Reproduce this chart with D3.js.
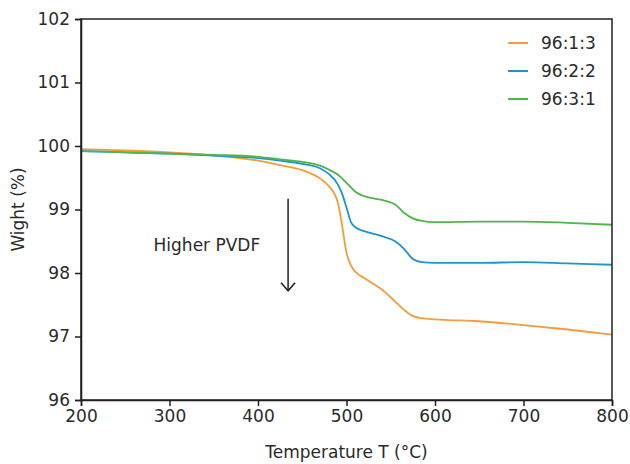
<!DOCTYPE html>
<html>
<head>
<meta charset="utf-8">
<script src="https://cdn.jsdelivr.net/npm/d3@7"></script>
<style>
	body { margin: 0; background: #fff; }
	svg text { font-family: "DejaVu Sans", sans-serif; fill: #2b2b2b; }
</style>
</head>
<body>
<div id="chart"></div>
<script>
var temps = [200, 250, 300, 350, 400, 425, 450, 470, 480, 490, 495, 500, 505, 510, 520, 540, 555, 565, 575, 585, 600, 650, 700, 750, 800];
var series131 = [99.95, 99.93, 99.90, 99.85, 99.77, 99.70, 99.62, 99.49, 99.37, 99.12, 98.75, 98.32, 98.12, 98.02, 97.92, 97.74, 97.55, 97.42, 97.32, 97.29, 97.27, 97.24, 97.18, 97.11, 97.03];
var series222 = [99.92, 99.90, 99.88, 99.85, 99.81, 99.77, 99.72, 99.65, 99.56, 99.40, 99.25, 99.03, 98.80, 98.72, 98.66, 98.58, 98.50, 98.38, 98.22, 98.17, 98.16, 98.16, 98.17, 98.15, 98.13];
var series311 = [99.92, 99.90, 99.88, 99.86, 99.83, 99.79, 99.75, 99.69, 99.63, 99.55, 99.49, 99.42, 99.35, 99.28, 99.21, 99.15, 99.08, 98.95, 98.86, 98.82, 98.80, 98.81, 98.81, 98.79, 98.76];
var seriesNames = ["96:1:3", "96:2:2", "96:3:1"];
var seriesColors = ["#f89b3a", "#1c95d3", "#4db848"];
var xTicks = [200, 300, 400, 500, 600, 700, 800];
var yTicks = [96, 97, 98, 99, 100, 101, 102];

var width = 630, height = 464;
var margin = { top: 19, right: 18, bottom: 64, left: 81 };

var svg = d3.select("#chart").append("svg")
	.attr("width", width)
	.attr("height", height);

var x = d3.scaleLinear().domain([200, 800]).range([margin.left, width - margin.right]);
var y = d3.scaleLinear().domain([96, 102]).range([height - margin.bottom, margin.top]);

var allSeries = [series131, series222, series311];

var line = d3.line()
	.x(function (d) { return x(d[0]); })
	.y(function (d) { return y(d[1]); })
	.curve(d3.curveMonotoneX);

// curves
svg.append("g")
	.selectAll("path")
	.data(allSeries)
	.enter()
		.append("path")
			.attr("fill", "none")
			.attr("stroke", function (d, i) { return seriesColors[i]; })
			.attr("stroke-width", 1.8)
			.attr("d", function (vals) {
				return line(vals.map(function (v, i) { return [temps[i], v]; }));
			});

// frame
svg.append("rect")
	.attr("x", x(200))
	.attr("y", y(102))
	.attr("width", x(800) - x(200))
	.attr("height", y(96) - y(102))
	.attr("fill", "none")
	.attr("stroke", "#231f20")
	.attr("stroke-width", 1.5);

var xAxis = svg.append("g")
	.attr("transform", "translate(0," + y(96) + ")")
	.call(d3.axisBottom(x).tickValues(xTicks).tickFormat(d3.format("d")).tickSize(6).tickPadding(4));

var yAxis = svg.append("g")
	.attr("transform", "translate(" + x(200) + ",0)")
	.call(d3.axisLeft(y).tickValues(yTicks).tickFormat(d3.format("d")).tickSize(6).tickPadding(5));

[xAxis, yAxis].forEach(function (g) {
	g.select(".domain").attr("stroke", "#231f20").attr("stroke-width", 1.5);
	g.selectAll(".tick line").attr("stroke", "#231f20").attr("stroke-width", 1.5);
	g.selectAll(".tick text")
		.style("font-family", "'DejaVu Sans', sans-serif")
		.style("font-size", "17px")
		.attr("fill", "#2b2b2b");
});

// axis titles
svg.append("text")
	.attr("x", (x(200) + x(800)) / 2)
	.attr("y", 458)
	.attr("text-anchor", "middle")
	.style("font-size", "17px")
	.text("Temperature T (°C)");

svg.append("text")
	.attr("transform", "translate(24," + ((y(96) + y(102)) / 2) + ") rotate(-90)")
	.attr("text-anchor", "middle")
	.style("font-size", "17px")
	.text("Wight (%)");

// legend
var legend = svg.append("g")
	.selectAll("g")
	.data(seriesNames)
	.enter()
		.append("g")
			.attr("transform", function (d, i) { return "translate(508," + (43 + i * 28) + ")"; });

legend.append("line")
	.attr("x1", 0).attr("x2", 20)
	.attr("stroke", function (d, i) { return seriesColors[i]; })
	.attr("stroke-width", 2);

legend.append("text")
	.attr("x", 33)
	.attr("dy", "0.35em")
	.style("font-size", "17px")
	.text(function (d) { return d; });

// annotation
svg.append("text")
	.attr("x", x(282))
	.attr("y", y(98.34))
	.style("font-size", "17px")
	.text("Higher PVDF");

var arrowX = x(434);
svg.append("line")
	.attr("x1", arrowX).attr("x2", arrowX)
	.attr("y1", y(99.17)).attr("y2", y(97.72))
	.attr("stroke", "#231f20")
	.attr("stroke-width", 1.5);

svg.append("path")
	.attr("d", "M" + (arrowX - 7) + "," + (y(97.72) - 8) + "L" + arrowX + "," + y(97.72) + "L" + (arrowX + 7) + "," + (y(97.72) - 8))
	.attr("fill", "none")
	.attr("stroke", "#231f20")
	.attr("stroke-width", 1.5);
</script>
</body>
</html>
